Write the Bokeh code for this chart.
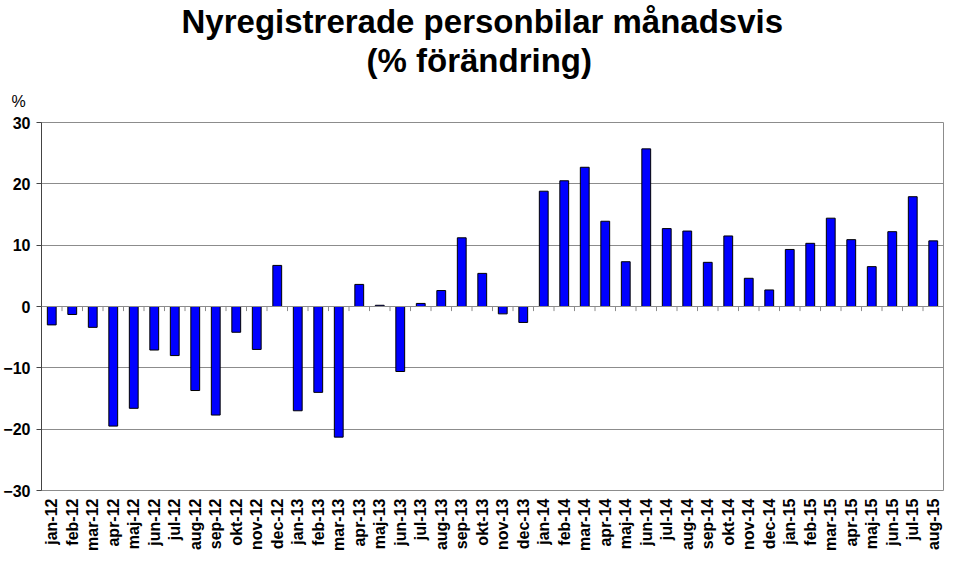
import math
from bokeh.plotting import figure
from bokeh.models import FactorRange, Range1d, Title, Span, ColumnDataSource, FixedTicker
from bokeh.transform import dodge
from bokeh.embed import file_html
from bokeh.resources import INLINE

months = ["jan-12", "feb-12", "mar-12", "apr-12", "maj-12", "jun-12", "jul-12", "aug-12", "sep-12", "okt-12", "nov-12", "dec-12",
          "jan-13", "feb-13", "mar-13", "apr-13", "maj-13", "jun-13", "jul-13", "aug-13", "sep-13", "okt-13", "nov-13", "dec-13",
          "jan-14", "feb-14", "mar-14", "apr-14", "maj-14", "jun-14", "jul-14", "aug-14", "sep-14", "okt-14", "nov-14", "dec-14",
          "jan-15", "feb-15", "mar-15", "apr-15", "maj-15", "jun-15", "jul-15", "aug-15"]
change = [-3.0, -1.3, -3.4, -19.5, -16.6, -7.1, -8.0, -13.7, -17.7, -4.2, -7.0, 6.7,
          -17.0, -14.0, -21.3, 3.6, 0.2, -10.6, 0.5, 2.6, 11.2, 5.4, -1.2, -2.6,
          18.8, 20.5, 22.7, 13.9, 7.3, 25.7, 12.7, 12.3, 7.2, 11.5, 4.6, 2.7,
          9.3, 10.3, 14.4, 10.9, 6.5, 12.2, 17.9, 10.7]
y_ticks = [-30, -20, -10, 0, 10, 20, 30]

FONT = "Liberation Sans"
GRID = "#8c8c8c"

src = ColumnDataSource(dict(month=months, change=change))

p = figure(width=944, height=553, x_range=FactorRange(*months), y_range=Range1d(-30, 30),
           output_backend="svg", toolbar_location=None, min_border_left=0, min_border_right=1,
           min_border_top=0, min_border_bottom=0)

p.vbar(x="month", top="change", bottom=0, width=0.43, source=src,
       fill_color="#0000FF", line_color="black", line_width=1)

# zero line with category-boundary tick marks
p.add_layout(Span(location=0, dimension="width", line_color=GRID, line_width=1))
p.segment(x0=dodge("month", -0.5, range=p.x_range), y0=0,
          x1=dodge("month", -0.5, range=p.x_range), y1=-0.75,
          source=src, line_color=GRID, line_width=1)

p.outline_line_color = GRID
p.xgrid.grid_line_color = None
p.ygrid.grid_line_color = GRID
p.ygrid.ticker = FixedTicker(ticks=y_ticks)

p.yaxis.ticker = FixedTicker(ticks=y_ticks)
p.yaxis.axis_line_color = "#444444"
p.yaxis.major_tick_line_color = "#444444"
p.yaxis.major_tick_out = 5
p.yaxis.major_tick_in = 0
p.yaxis.minor_tick_line_color = None
p.yaxis.minor_tick_out = 0
p.yaxis.axis_label_standoff = 0
p.yaxis.major_label_text_font = FONT
p.yaxis.major_label_text_font_style = "bold"
p.yaxis.major_label_text_font_size = "16px"
p.yaxis.major_label_text_color = "black"
p.yaxis.major_label_standoff = 6

p.xaxis.axis_line_color = None
p.xaxis.major_tick_line_color = None
p.xaxis.minor_tick_line_color = None
p.xaxis.major_tick_out = 0
p.xaxis.major_tick_in = 0
p.xaxis.minor_tick_out = 0
p.xaxis.axis_label_standoff = 0
p.xaxis.major_label_orientation = math.pi / 2
p.xaxis.major_label_text_font = FONT
p.xaxis.major_label_text_font_style = "bold"
p.xaxis.major_label_text_font_size = "16px"
p.xaxis.major_label_text_color = "black"
p.xaxis.major_label_standoff = 8

p.add_layout(Title(text="%", align="left", offset=-30, text_font=FONT, text_font_style="normal",
                   text_font_size="16px", text_color="black", standoff=25), "above")
p.add_layout(Title(text="(% förändring)", align="left", offset=325, text_font=FONT,
                   text_font_style="bold", text_font_size="33px", text_color="black",
                   standoff=0), "above")
p.add_layout(Title(text="Nyregistrerade personbilar månadsvis", align="left", offset=140,
                   text_font=FONT, text_font_style="bold", text_font_size="33px", text_color="black",
                   standoff=0), "above")

open("out.html", "w").write(file_html(p, INLINE))
